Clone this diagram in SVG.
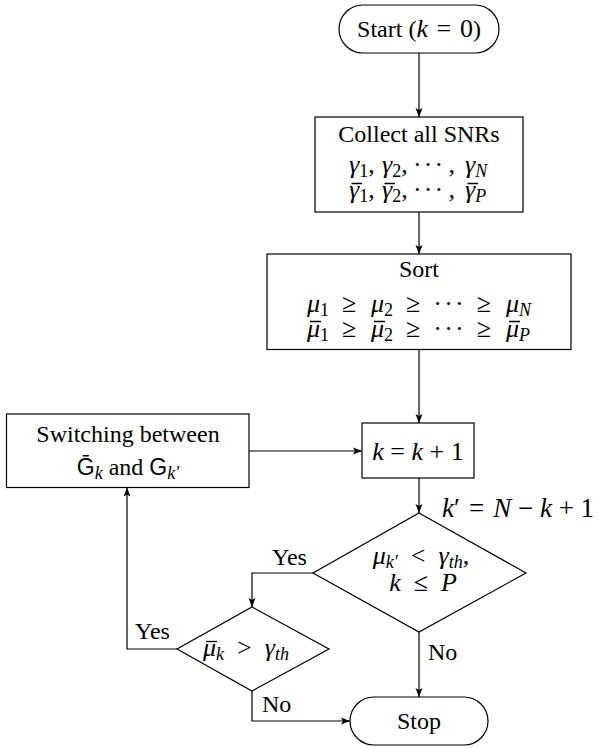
<svg xmlns="http://www.w3.org/2000/svg" width="598" height="748" viewBox="0 0 598 748">
<style>
text{font-family:"Liberation Serif","DejaVu Serif","Noto Serif",serif;font-size:24px;fill:#000;text-anchor:middle}
.m{font-size:26px}
.L{text-anchor:start}
.i{font-style:italic}
.s{font-size:18px}
.sans{font-family:"Liberation Sans","DejaVu Sans",sans-serif;font-size:23px}
.box{fill:#fff;stroke:#000;stroke-width:1.2}
.ln{fill:none;stroke:#000;stroke-width:1.2}
.bar{stroke:#000;stroke-width:1.3}
</style>
<defs>
<marker id="ar" markerUnits="userSpaceOnUse" markerWidth="10" markerHeight="8" refX="9" refY="4" orient="auto">
<path d="M0,0.5 L9,4 L0,7.5 L2,4 Z" fill="#000"/>
</marker>
</defs>
<g id="connectors">
<path class="ln" d="M419,53 V117" marker-end="url(#ar)"/>
<path class="ln" d="M419,212 V254" marker-end="url(#ar)"/>
<path class="ln" d="M419,349.5 V423" marker-end="url(#ar)"/>
<path class="ln" d="M249,451 H362" marker-end="url(#ar)"/>
<path class="ln" d="M419,478 V513" marker-end="url(#ar)"/>
<path class="ln" d="M313,573 H252 V607" marker-end="url(#ar)"/>
<path class="ln" d="M419,632 V697" marker-end="url(#ar)"/>
<path class="ln" d="M177,649 H127 V487.5" marker-end="url(#ar)"/>
<path class="ln" d="M252,691 V721 H350" marker-end="url(#ar)"/>
<text class="L" x="272" y="565">Yes</text>
<text class="L" x="135" y="639">Yes</text>
<text class="L" x="262" y="712">No</text>
<text class="L" x="428" y="660">No</text>
<text class="L m" x="442" y="517" style="font-size:27px"><tspan class="i">k</tspan>′&#8196;=&#8196;<tspan class="i">N</tspan> − <tspan class="i">k</tspan> + 1</text>
</g>
<g id="start">
<rect class="box" x="339" y="5" width="160" height="48" rx="24"/>
<text x="419" y="37">Start (<tspan class="i m">k</tspan><tspan class="m">&#8196;=&#8196;0</tspan>)</text>
</g>
<g id="collect">
<rect class="box" x="315" y="117" width="208" height="95"/>
<text x="419" y="142">Collect all SNRs</text>
<text class="m L" y="173"><tspan class="i" x="349">γ</tspan><tspan class="s" dy="4">1</tspan><tspan dy="-4">,&#8201;</tspan><tspan class="i" x="382">γ</tspan><tspan class="s" dy="4">2</tspan><tspan dy="-4">,&#8201;·&#8202;·&#8202;·&#8201;,&#8201;</tspan><tspan class="i" x="465">γ</tspan><tspan class="s i" dy="4">N</tspan></text>
<text class="m L" y="198"><tspan class="i" x="349">γ</tspan><tspan class="s" dy="4">1</tspan><tspan dy="-4">,&#8201;</tspan><tspan class="i" x="382">γ</tspan><tspan class="s" dy="4">2</tspan><tspan dy="-4">,&#8201;·&#8202;·&#8202;·&#8201;,&#8201;</tspan><tspan class="i" x="465">γ</tspan><tspan class="s i" dy="4">P</tspan></text>
<path class="bar" d="M351.5,183.5 H362 M384.5,183.5 H395 M467.5,183.5 H478"/>
</g>
<g id="sort">
<rect class="box" x="267" y="254" width="304" height="95.5"/>
<text x="419" y="277">Sort</text>
<text class="m L" y="312"><tspan class="i" x="307">μ</tspan><tspan class="s" dy="4">1</tspan><tspan dy="-4">&#8194;≥&#8194;</tspan><tspan class="i" x="371">μ</tspan><tspan class="s" dy="4">2</tspan><tspan dy="-4">&#8194;≥&#8194;·&#8202;·&#8202;·&#8194;≥&#8194;</tspan><tspan class="i" x="506">μ</tspan><tspan class="s i" dy="4">N</tspan></text>
<text class="m L" y="337"><tspan class="i" x="307">μ</tspan><tspan class="s" dy="4">1</tspan><tspan dy="-4">&#8194;≥&#8194;</tspan><tspan class="i" x="371">μ</tspan><tspan class="s" dy="4">2</tspan><tspan dy="-4">&#8194;≥&#8194;·&#8202;·&#8202;·&#8194;≥&#8194;</tspan><tspan class="i" x="506">μ</tspan><tspan class="s i" dy="4">P</tspan></text>
<path class="bar" d="M310,321.5 H321 M374,321.5 H385 M509,321.5 H520"/>
</g>
<g id="switching">
<rect class="box" x="6.5" y="414" width="242.5" height="73.5"/>
<text x="128" y="442">Switching between</text>
<text x="128" y="475"><tspan class="sans">Ḡ</tspan><tspan class="s i" dy="4">k</tspan><tspan dy="-4"> and </tspan><tspan class="sans">G</tspan><tspan class="s i" dy="4">k′</tspan></text>
</g>
<g id="increment">
<rect class="box" x="362" y="423" width="112" height="55"/>
<text class="m" x="418" y="460"><tspan class="i">k</tspan> = <tspan class="i">k</tspan> + 1</text>
</g>
<g id="decision1">
<path class="box" d="M419,513 L526,573 L419,632 L313,573 Z"/>
<text class="m" x="421" y="564"><tspan class="i">μ</tspan><tspan class="s i" dy="4">k′</tspan><tspan dy="-4">&#8194;&lt;&#8194;</tspan><tspan class="i">γ</tspan><tspan class="s i" dy="4">th</tspan><tspan dy="-4">,</tspan></text>
<text class="m" x="423" y="591"><tspan class="i">k</tspan>&#8194;≤&#8194;<tspan class="i">P</tspan></text>
</g>
<g id="decision2">
<path class="box" d="M252,607 L329,649 L252,691 L177,649 Z"/>
<text class="m L" y="656"><tspan class="i" x="203">μ</tspan><tspan class="s i" dy="4">k</tspan><tspan dy="-4">&#8194;&gt;&#8194;</tspan><tspan class="i">γ</tspan><tspan class="s i" dy="4">th</tspan></text>
<path class="bar" d="M206,641.5 H217"/>
</g>
<g id="stop">
<rect class="box" x="350" y="697" width="138" height="48" rx="24"/>
<text x="419" y="729">Stop</text>
</g>
</svg>
